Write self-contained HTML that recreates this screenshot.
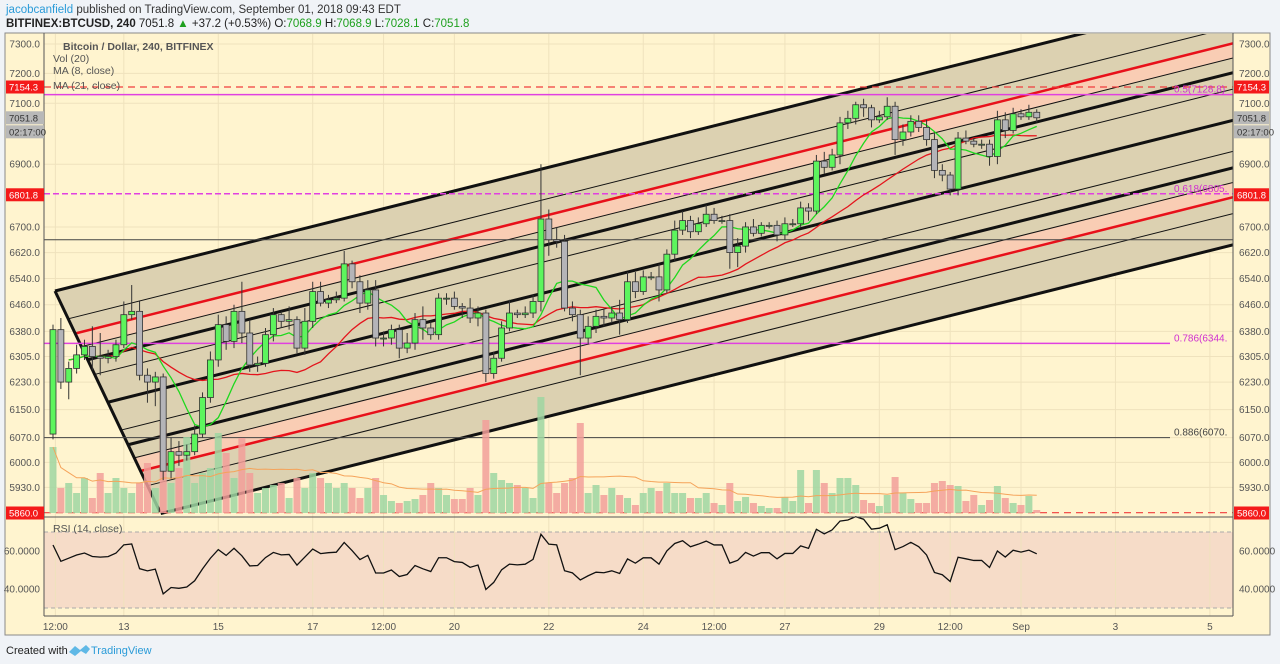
<!DOCTYPE html>
<html><head><meta charset="utf-8">
<style>
html,body{margin:0;padding:0;background:#f0f3f7;}
svg{display:block;font-family:"Liberation Sans",sans-serif;}
</style></head>
<body>
<svg id="c" width="1280" height="664" viewBox="0 0 1280 664" xmlns="http://www.w3.org/2000/svg">
<rect x="0" y="0" width="1280" height="664" fill="#f0f3f7"/>
<text x="6" y="13" font-size="11.5" fill="#333"><tspan fill="#2a9bd8">jacobcanfield</tspan> published on TradingView.com, September 01, 2018 09:43 EDT</text>
<text x="6" y="27" font-size="11.5" fill="#222"><tspan font-weight="bold">BITFINEX:BTCUSD, 240</tspan> 7051.8 <tspan fill="#1ea01e">▲</tspan> +37.2 (+0.53%) O:<tspan fill="#1ea01e">7068.9</tspan> H:<tspan fill="#1ea01e">7068.9</tspan> L:<tspan fill="#1ea01e">7028.1</tspan> C:<tspan fill="#1ea01e">7051.8</tspan></text>
<rect x="5" y="33" width="1265" height="602" fill="#fff4cf" stroke="#8a8a8a" stroke-width="1"/>
<rect x="44" y="532" width="1189" height="76" fill="#f6dcc8"/>
<g id="grid"></g>
<g id="fork"></g>
<g id="hlines"></g>
<g id="vol"></g>
<g id="ma"></g>
<g id="candles"></g>
<g id="rsi"></g>
<g id="axes"></g>
<text x="63" y="50" font-size="10.5" fill="#555" font-weight="bold">Bitcoin / Dollar, 240, BITFINEX</text>
<text x="53" y="62" font-size="10.5" fill="#555">Vol (20)</text>
<text x="53" y="74" font-size="10.5" fill="#555">MA (8, close)</text>
<text x="53" y="89" font-size="10.5" fill="#555">MA (21, close)</text>
<text x="53" y="532" font-size="10.5" fill="#555">RSI (14, close)</text>
<text x="6" y="654" font-size="11" fill="#222">Created with</text>
<path d="M69 652 l6 -6 l5 4 l6 -5 l4 4 l-4 5 l-5 -3 l-6 5 z" fill="#5fb8e6"/>
<text x="91" y="654" font-size="11" fill="#2a9bd8">TradingView</text>
</svg>
<script>
const closes=[6385,6230,6270,6310,6335,6305,6300,6305,6340,6430,6440,6250,6230,6245,5975,6030,6020,6030,6080,6185,6295,6400,6350,6440,6375,6280,6285,6370,6430,6410,6415,6330,6410,6500,6465,6475,6480,6585,6530,6465,6505,6360,6360,6385,6330,6345,6415,6390,6370,6480,6480,6455,6450,6420,6435,6255,6300,6390,6435,6430,6435,6470,6725,6660,6655,6450,6430,6360,6395,6425,6420,6435,6415,6530,6500,6545,6545,6505,6615,6690,6720,6685,6710,6740,6720,6720,6620,6640,6700,6680,6705,6705,6675,6710,6710,6760,6750,6910,6890,6930,7035,7050,7095,7085,7045,7055,7090,6980,7005,7040,7020,6980,6880,6865,6820,6985,6975,6965,6965,6925,7045,7010,7065,7055,7070,7051.8];
const firstOpen=6080;
const wickHigh=[15,35,20,30,20,60,70,20,15,40,80,30,20,15,10,40,30,20,25,15,25,30,25,20,90,40,20,20,20,10,40,10,40,30,30,15,20,40,10,20,30,30,20,15,15,30,20,40,20,15,15,20,10,30,20,10,20,20,40,10,20,20,175,30,40,20,20,15,30,20,20,20,40,30,30,20,15,40,15,30,30,15,20,30,20,15,20,25,15,25,10,10,15,20,15,20,15,20,30,20,20,25,10,20,10,20,30,15,25,20,20,25,20,20,10,20,25,10,15,15,30,25,20,15,25,10];
const wickLow=[15,20,50,15,15,40,50,15,15,10,15,15,60,70,25,20,30,15,10,10,15,20,25,20,30,20,20,10,20,20,25,15,20,20,10,15,10,10,20,30,20,25,25,20,30,15,20,35,15,15,20,10,30,15,25,25,15,10,10,10,10,15,30,50,20,10,20,110,20,20,25,15,45,10,20,10,10,35,10,20,15,20,10,10,10,10,50,45,20,10,10,10,20,15,10,10,30,10,20,10,30,20,20,30,25,10,10,50,20,15,15,20,25,20,20,20,10,10,15,30,25,25,10,10,10,15];
const volumes=[66,25,30,20,35,15,40,20,35,25,20,30,50,25,91,30,45,76,30,40,45,80,60,35,75,40,20,25,28,30,15,35,25,40,35,30,25,30,25,15,25,35,18,12,10,12,14,18,30,25,18,14,14,25,18,93,40,33,30,28,25,15,116,30,20,30,35,90,20,28,18,25,18,15,8,20,25,22,30,20,20,15,15,20,10,8,30,12,16,10,7,5,5,16,12,43,10,43,30,20,35,35,28,13,10,7,18,36,20,14,10,10,30,32,28,27,12,18,8,13,27,15,10,8,17,3];
const priceTicks=[7300,7200,7100,6900,6700,6620,6540,6460,6380,6305,6230,6150,6070,6000,5930];
const rsiTicks=[60,40];
const timeLabels=["12:00","13","15","17","12:00","20","22","24","12:00","27","29","12:00","Sep","3","5"];
const timeIdx=[0.3,9,21,33,42,51,63,75,84,93,105,114,123,135,147];

const NS="http://www.w3.org/2000/svg";
const PL=44,PR=1233,PT=34,PB=516;
const yP=p=>44+2133*Math.log(7300/p);
const xI=i=>53+7.87*i;
const yR=v=>551+(60-v)*1.9;
function mk(tag,attrs,parent){const e=document.createElementNS(NS,tag);for(const k in attrs)e.setAttribute(k,attrs[k]);parent.appendChild(e);return e;}
const G=id=>document.getElementById(id);

const grid=G('grid');
priceTicks.forEach(p=>{const l=mk('line',{x1:PL,x2:PR,y1:yP(p),y2:yP(p),stroke:'#efe2bd','stroke-width':1},grid);

});
timeIdx.forEach(t=>{const l=mk('line',{x1:xI(t),x2:xI(t),y1:PT,y2:616,stroke:'#efe2bd','stroke-width':1},grid);

});

const fork=G('fork');
const slope=-0.2506, ax=55, ay=291, W=249;
const lineY=(x,d)=>ay+slope*(x-ax)+d;
const startX=d=>ax+105*(d/247.3);
function bandPoly(d1,d2,fill,name){
 const xs1=startX(d1),xs2=startX(d2);
 const pts=[[xs1,lineY(xs1,d1)],[PR,lineY(PR,d1)],[PR,lineY(PR,d2)],[xs2,lineY(xs2,d2)]];
 const p=mk('polygon',{points:pts.map(q=>q.join(',')).join(' '),fill:fill},fork);
 
 
}
const cp=mk('clipPath',{id:'plotclip'},document.getElementById('c'));
mk('rect',{x:PL,y:PT,width:PR-PL,height:PB-PT},cp);
fork.setAttribute('clip-path','url(#plotclip)');
bandPoly(0,W,'#dcd1b1','pitchfork-fill');
const H=W/2;
bandPoly(H-0.618*H,H-0.5*H,'#f9cdb4','pitchfork-upper-band');
bandPoly(H+0.5*H,H+0.618*H,'#f9cdb4','pitchfork-lower-band');
const fracs=[-1,-0.75,-0.618,-0.5,-0.382,-0.25,0,0.25,0.382,0.5,0.618,0.75,1];
fracs.forEach(f=>{
 const d=H+f*H, xs=startX(d);
 const a=Math.abs(f);
 let col='#111',w=1;
 if(a===1){w=3;} else if(a===0.382||f===0){w=3;} else if(a===0.618){col='#e8101a';w=2.5;}
 const l=mk('line',{x1:xs,y1:lineY(xs,d),x2:PR,y2:lineY(PR,d),stroke:col,'stroke-width':w},fork);
 
 
});
const hd=mk('line',{x1:ax,y1:ay,x2:160,y2:512,stroke:'#111','stroke-width':3},fork);



const hl=G('hlines');
function hline(y,x2,col,w,dash,name){const l=mk('line',{x1:PL,x2:x2,y1:y,y2:y,stroke:col,'stroke-width':w},hl);if(dash)l.setAttribute('stroke-dasharray',dash);

}
hline(yP(7154.3),PR,'#f03c3c',1.2,'7,5','resistance-dashed-line');
hline(yP(7128.8),PR,'#e040e0',1.5,null,'fib-0.5-line');
hline(yP(6805),PR,'#e040e0',1.5,'6,3','fib-0.618-line');
hline(yP(6660),PR,'#444',1,null,'support-line');
hline(yP(6344),1170,'#e040e0',1.5,null,'fib-0.786-line');
hline(yP(6070),1170,'#444',1,null,'fib-0.886-line');
hline(yP(5860),PR,'#f03c3c',1.2,'7,5','low-dashed-line');
[['0.5(7128.8)',7128.8],['0.618(6805.',6805],['0.786(6344.',6344],['0.886(6070.',6070]].forEach(a=>{
 const t=mk('text',{x:1174,y:yP(a[1])-2,'font-size':10,fill:a[0].startsWith('0.886')?'#444':'#d030d0'},hl);t.textContent=a[0];
 
 
});

const vol=G('vol');
const opens=closes.map((c,i)=>i===0?firstOpen:closes[i-1]);
volumes.forEach((v,i)=>{const up=closes[i]>=opens[i];
 const r=mk('rect',{x:xI(i)-3.5,y:513-v,width:7,height:v,fill:up?'#9fd6a2':'#f29f9a','fill-opacity':0.85},vol);
 
 });
const vma=[];volumes.forEach((v,i)=>{const s=volumes.slice(Math.max(0,i-19),i+1);vma.push(s.reduce((a,b)=>a+b,0)/s.length);});
const vl=mk('polyline',{points:vma.map((v,i)=>xI(i)+','+(513-v)).join(' '),fill:'none',stroke:'#f5a35a','stroke-width':1},vol);



const ma=G('ma');
function maLine(n,col,name){const pts=[];closes.forEach((c,i)=>{if(i<2)return;const s=closes.slice(Math.max(0,i-n+1),i+1);pts.push(xI(i)+','+yP(s.reduce((a,b)=>a+b,0)/s.length));});
 const l=mk('polyline',{points:pts.join(' '),fill:'none',stroke:col,'stroke-width':1.3},ma);
 
 }
maLine(21,'#e4141c','ma21-line');
maLine(8,'#1ed81e','ma8-line');

const cg=G('candles');
closes.forEach((c,i)=>{const o=opens[i],up=c>=o,x=xI(i);
 const hi=Math.max(o,c)+wickHigh[i],lo=Math.min(o,c)-wickLow[i];
 const w=mk('line',{x1:x,x2:x,y1:yP(hi),y2:yP(lo),stroke:'#333','stroke-width':1},cg);
 
 
 const t=yP(Math.max(o,c)),b=yP(Math.min(o,c));
 const r=mk('rect',{x:x-3,y:t,width:6,height:Math.max(1,b-t),fill:up?'#5df55d':'#b4b4b8',stroke:'#333','stroke-width':0.8},cg);
 
 
});

const rg=G('rsi');
[70,30].forEach(v=>{const l=mk('line',{x1:PL,x2:PR,y1:yR(v),y2:yR(v),stroke:'#aaa','stroke-dasharray':'4,3','stroke-width':1},rg);

});
let ag=28,al=30;const rv=[];
closes.forEach((c,i)=>{const d=c-opens[i];const g=Math.max(d,0),l=Math.max(-d,0);
 ag=(ag*13+g)/14;al=(al*13+l)/14;
 rv.push(al===0?100:100-100/(1+ag/al));});
const rl=mk('polyline',{points:rv.map((v,i)=>xI(i)+','+yR(v)).join(' '),fill:'none',stroke:'#111','stroke-width':1.3},rg);



const ax2=G('axes');
function axl(x1,y1,x2,y2,name){const l=mk('line',{x1,y1,x2,y2,stroke:'#555','stroke-width':1},ax2);

}
axl(PL,33,PL,616,'left-axis-line');axl(PR,33,PR,616,'right-axis-line');
axl(PL,517,PR,517,'pane-separator');axl(PL,616,PR,616,'time-axis-line');
function txt(x,y,s,anchor,name,col,size){const t=mk('text',{x,y,'font-size':size||10,fill:col||'#555','text-anchor':anchor},ax2);t.textContent=s;
 
 return t;}
priceTicks.forEach(p=>{const y=yP(p)+3.5;txt(40,y,p.toFixed(1),'end','left-price-tick');txt(1239,y,p.toFixed(1),'start','right-price-tick');});
function box(y,label,bg,fg){[[6,38],[1234,35]].forEach(s=>{const r=mk('rect',{x:s[0],y:y-6.5,width:s[1],height:13,fill:bg},ax2);
 
 
 txt(s[0]+3,y+3.5,label,'start','price-label',fg,9.5);});}
box(yP(7154.3),'7154.3','#f41a1a','#fff');
box(yP(7051.8),'7051.8','#b8b8b8','#333');
box(yP(7051.8)+14,'02:17:00','#b8b8b8','#333');
box(yP(6801.8),'6801.8','#f41a1a','#fff');
box(513,'5860.0','#f41a1a','#fff');
rsiTicks.forEach(v=>{const y=yR(v)+3.5;txt(40,y,v.toFixed(4),'end','left-rsi-tick');txt(1239,y,v.toFixed(4),'start','right-rsi-tick');});
timeLabels.forEach((s,k)=>{txt(xI(timeIdx[k]),630,s,'middle','time-tick','#555',10);});
</script>
</body></html>
